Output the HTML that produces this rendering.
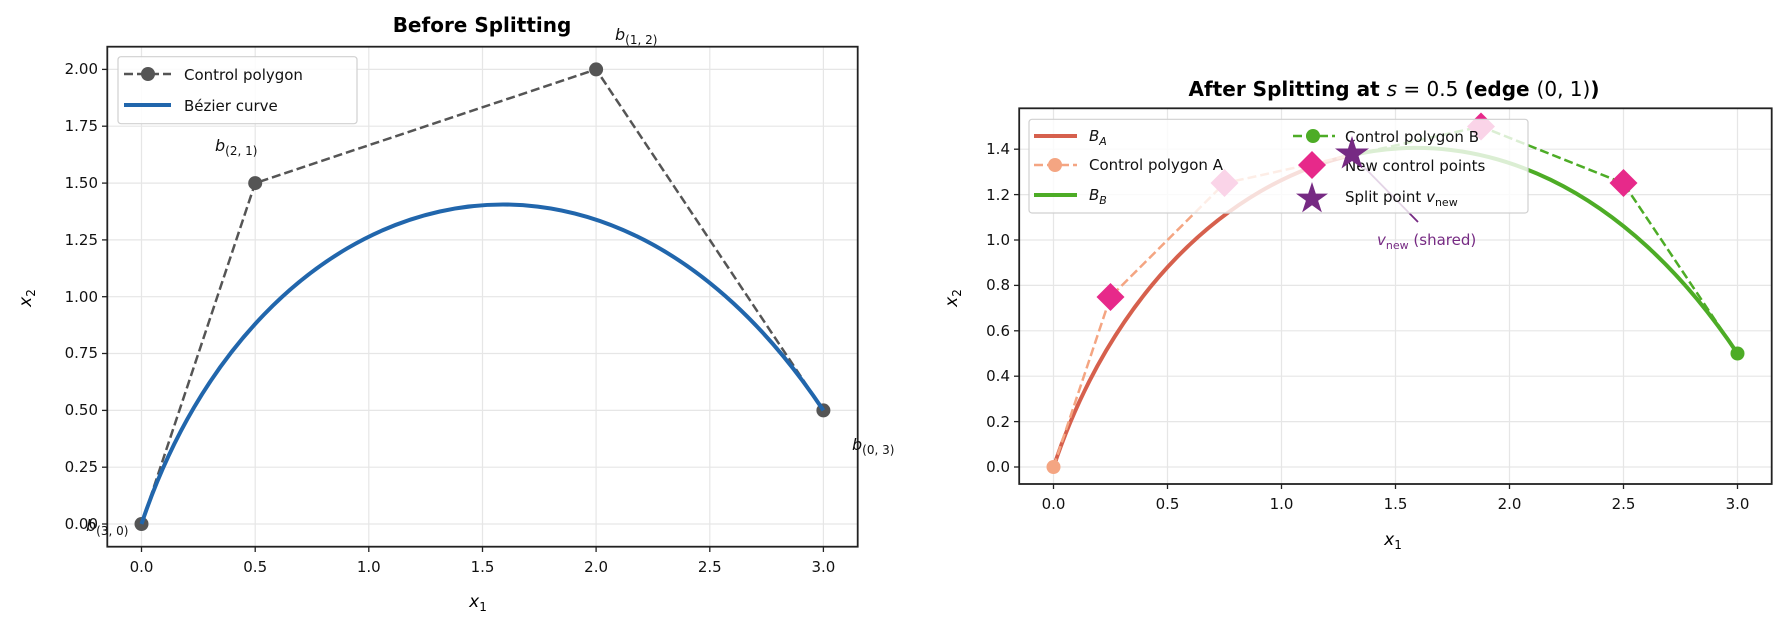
<!DOCTYPE html>
<html><head><meta charset="utf-8"><style>
html,body{margin:0;padding:0;background:#fff;}
svg{display:block;font-family:"DejaVu Sans","Liberation Sans",sans-serif;}
</style></head><body>
<svg width="1784" height="628" viewBox="0 0 1784 628" xmlns="http://www.w3.org/2000/svg">
<rect width="1784" height="628" fill="#fff"/>
<!-- ===== LEFT PLOT ===== -->
<g stroke="#e6e6e6" stroke-width="1.2">
<line x1="141.5" y1="46.7" x2="141.5" y2="546.7"/><line x1="255.2" y1="46.7" x2="255.2" y2="546.7"/>
<line x1="368.8" y1="46.7" x2="368.8" y2="546.7"/><line x1="482.5" y1="46.7" x2="482.5" y2="546.7"/>
<line x1="596.1" y1="46.7" x2="596.1" y2="546.7"/><line x1="709.8" y1="46.7" x2="709.8" y2="546.7"/>
<line x1="823.4" y1="46.7" x2="823.4" y2="546.7"/>
<line x1="107.3" y1="524" x2="857.7" y2="524"/><line x1="107.3" y1="467.2" x2="857.7" y2="467.2"/>
<line x1="107.3" y1="410.4" x2="857.7" y2="410.4"/><line x1="107.3" y1="353.5" x2="857.7" y2="353.5"/>
<line x1="107.3" y1="296.7" x2="857.7" y2="296.7"/><line x1="107.3" y1="239.9" x2="857.7" y2="239.9"/>
<line x1="107.3" y1="183.1" x2="857.7" y2="183.1"/><line x1="107.3" y1="126.2" x2="857.7" y2="126.2"/>
<line x1="107.3" y1="69.4" x2="857.7" y2="69.4"/>
</g>
<polyline points="141.5,524 255.2,183.1 596.1,69.4 823.4,410.4" fill="none" stroke="#555" stroke-width="2.5" stroke-dasharray="9,4"/>
<g fill="#555"><circle cx="141.5" cy="524" r="7"/><circle cx="255.2" cy="183.1" r="7"/><circle cx="596.1" cy="69.4" r="7"/><circle cx="823.4" cy="410.4" r="7"/></g>
<path d="M141.5,524 C255.2,183.1 596.1,69.4 823.4,410.4" fill="none" stroke="#2166ac" stroke-width="4"/>
<rect x="107.3" y="46.7" width="750.4" height="500" fill="none" stroke="#222" stroke-width="1.8"/>
<g stroke="#222" stroke-width="1.3">
<line x1="141.5" y1="546.7" x2="141.5" y2="552"/><line x1="255.2" y1="546.7" x2="255.2" y2="552"/><line x1="368.8" y1="546.7" x2="368.8" y2="552"/><line x1="482.5" y1="546.7" x2="482.5" y2="552"/><line x1="596.1" y1="546.7" x2="596.1" y2="552"/><line x1="709.8" y1="546.7" x2="709.8" y2="552"/><line x1="823.4" y1="546.7" x2="823.4" y2="552"/>
<line x1="102" y1="524" x2="107.3" y2="524"/><line x1="102" y1="467.2" x2="107.3" y2="467.2"/><line x1="102" y1="410.4" x2="107.3" y2="410.4"/><line x1="102" y1="353.5" x2="107.3" y2="353.5"/><line x1="102" y1="296.7" x2="107.3" y2="296.7"/><line x1="102" y1="239.9" x2="107.3" y2="239.9"/><line x1="102" y1="183.1" x2="107.3" y2="183.1"/><line x1="102" y1="126.2" x2="107.3" y2="126.2"/><line x1="102" y1="69.4" x2="107.3" y2="69.4"/>
</g>
<g font-size="15" fill="#111" text-anchor="middle">
<text x="141.5" y="572">0.0</text><text x="255.2" y="572">0.5</text><text x="368.8" y="572">1.0</text><text x="482.5" y="572">1.5</text><text x="596.1" y="572">2.0</text><text x="709.8" y="572">2.5</text><text x="823.4" y="572">3.0</text>
</g>
<g font-size="15" fill="#111" text-anchor="end">
<text x="98" y="529">0.00</text><text x="98" y="472">0.25</text><text x="98" y="415">0.50</text><text x="98" y="358">0.75</text><text x="98" y="302">1.00</text><text x="98" y="245">1.25</text><text x="98" y="188">1.50</text><text x="98" y="131">1.75</text><text x="98" y="74">2.00</text>
</g>
<text x="482" y="32" font-size="20" font-weight="bold" text-anchor="middle">Before Splitting</text>
<text x="478" y="607" font-size="17" font-style="italic" text-anchor="middle">x<tspan font-size="12" dy="4" font-style="normal">1</tspan></text>
<text transform="translate(31,298) rotate(-90)" font-size="17" font-style="italic" text-anchor="middle">x<tspan font-size="12" dy="4" font-style="normal">2</tspan></text>
<g font-size="16" font-style="italic" fill="#111">
<text x="615" y="40">b<tspan font-size="12" font-style="normal" dy="4">(1, 2)</tspan></text>
<text x="215" y="151">b<tspan font-size="12" font-style="normal" dy="4">(2, 1)</tspan></text>
<text x="852" y="450">b<tspan font-size="12" font-style="normal" dy="4">(0, 3)</tspan></text>
<text x="86" y="531">b<tspan font-size="12" font-style="normal" dy="4">(3, 0)</tspan></text>
</g>
<rect x="118" y="56.7" width="239" height="67" rx="3" fill="#fff" fill-opacity="0.85" stroke="#d0d0d0" stroke-width="1.2"/>
<line x1="124" y1="74" x2="171" y2="74" stroke="#555" stroke-width="2.5" stroke-dasharray="9,4"/>
<circle cx="148" cy="74" r="7" fill="#555"/>
<line x1="124" y1="105" x2="171" y2="105" stroke="#2166ac" stroke-width="4"/>
<g font-size="15" fill="#111"><text x="184" y="80">Control polygon</text><text x="184" y="111">Bézier curve</text></g>

<!-- ===== RIGHT PLOT ===== -->
<g stroke="#e6e6e6" stroke-width="1.2">
<line x1="1053.5" y1="108.3" x2="1053.5" y2="484"/><line x1="1167.5" y1="108.3" x2="1167.5" y2="484"/><line x1="1281.5" y1="108.3" x2="1281.5" y2="484"/><line x1="1395.5" y1="108.3" x2="1395.5" y2="484"/><line x1="1509.5" y1="108.3" x2="1509.5" y2="484"/><line x1="1623.5" y1="108.3" x2="1623.5" y2="484"/><line x1="1737.5" y1="108.3" x2="1737.5" y2="484"/>
<line x1="1019.2" y1="467" x2="1771.7" y2="467"/><line x1="1019.2" y1="421.6" x2="1771.7" y2="421.6"/><line x1="1019.2" y1="376.2" x2="1771.7" y2="376.2"/><line x1="1019.2" y1="330.8" x2="1771.7" y2="330.8"/><line x1="1019.2" y1="285.4" x2="1771.7" y2="285.4"/><line x1="1019.2" y1="240" x2="1771.7" y2="240"/><line x1="1019.2" y1="194.6" x2="1771.7" y2="194.6"/><line x1="1019.2" y1="149.2" x2="1771.7" y2="149.2"/>
</g>
<path d="M1053.5,467 C1110.5,296.75 1224.5,183.25 1352.8,154.9" fill="none" stroke="#d6604d" stroke-width="4"/>
<path d="M1352.8,154.9 C1481,126.5 1623.5,183.25 1737.5,353.5" fill="none" stroke="#4dac26" stroke-width="4"/>
<polyline points="1053.5,467 1110.5,296.75 1224.5,183.25 1352.8,154.9" fill="none" stroke="#f4a582" stroke-width="2.5" stroke-dasharray="9,4"/>
<polyline points="1352.8,154.9 1481,126.5 1623.5,183.25 1737.5,353.5" fill="none" stroke="#4dac26" stroke-width="2.5" stroke-dasharray="9,4"/>
<circle cx="1053.5" cy="467" r="7" fill="#f4a582"/>
<circle cx="1737.5" cy="353.5" r="7" fill="#4dac26"/>
<g fill="#e7298a">
<polygon points="1110.5,283 1124.5,297 1110.5,311 1096.5,297"/>
<polygon points="1224.5,169 1238.5,183 1224.5,197 1210.5,183"/>
<polygon points="1481,112.5 1495,126.5 1481,140.5 1467,126.5"/>
<polygon points="1623.5,169 1637.5,183 1623.5,197 1609.5,183"/>
</g>
<line x1="1418" y1="222" x2="1360" y2="163" stroke="#762a83" stroke-width="1.8"/>
<!-- legend -->
<rect x="1029" y="119.3" width="499" height="93.7" rx="3" fill="#fff" fill-opacity="0.8" stroke="#d0d0d0" stroke-width="1.2"/>
<line x1="1034" y1="136" x2="1077" y2="136" stroke="#d6604d" stroke-width="4"/>
<line x1="1034" y1="165" x2="1077" y2="165" stroke="#f4a582" stroke-width="2.5" stroke-dasharray="9,4"/>
<circle cx="1055" cy="165" r="7" fill="#f4a582"/>
<line x1="1034" y1="195" x2="1077" y2="195" stroke="#4dac26" stroke-width="4"/>
<line x1="1293" y1="136" x2="1335" y2="136" stroke="#4dac26" stroke-width="2.5" stroke-dasharray="9,4"/>
<circle cx="1313" cy="136" r="7" fill="#4dac26"/>
<polygon points="1312,151 1326,165 1312,179 1298,165" fill="#e7298a"/>
<polygon points="1312,182 1315.8,193.6 1328,193.6 1318.1,200.8 1321.9,212.4 1312,205.2 1302.1,212.4 1305.9,200.8 1296,193.6 1308.2,193.6" fill="#762a83"/>
<g font-size="15" fill="#111">
<text x="1089" y="141" font-style="italic">B<tspan font-size="11" dy="4">A</tspan></text>
<text x="1089" y="170">Control polygon A</text>
<text x="1089" y="200" font-style="italic">B<tspan font-size="11" dy="4">B</tspan></text>
<text x="1345" y="142">Control polygon B</text>
<text x="1345" y="171">New control points</text>
<text x="1345" y="202">Split point <tspan font-style="italic">v</tspan><tspan font-size="11" dy="4">new</tspan></text>
</g>
<polygon points="1352,136 1356,148.5 1369,148.5 1358.5,156 1362.5,168.5 1352,161 1341.5,168.5 1345.5,156 1335,148.5 1348,148.5" fill="#762a83"/>
<text x="1377" y="245" font-size="15" fill="#762a83"><tspan font-style="italic">v</tspan><tspan font-size="11" dy="4">new</tspan><tspan dy="-4"> (shared)</tspan></text>
<rect x="1019.2" y="108.3" width="752.5" height="375.7" fill="none" stroke="#222" stroke-width="1.8"/>
<g stroke="#222" stroke-width="1.3">
<line x1="1053.5" y1="484" x2="1053.5" y2="489"/><line x1="1167.5" y1="484" x2="1167.5" y2="489"/><line x1="1281.5" y1="484" x2="1281.5" y2="489"/><line x1="1395.5" y1="484" x2="1395.5" y2="489"/><line x1="1509.5" y1="484" x2="1509.5" y2="489"/><line x1="1623.5" y1="484" x2="1623.5" y2="489"/><line x1="1737.5" y1="484" x2="1737.5" y2="489"/>
<line x1="1014" y1="467" x2="1019.2" y2="467"/><line x1="1014" y1="421.6" x2="1019.2" y2="421.6"/><line x1="1014" y1="376.2" x2="1019.2" y2="376.2"/><line x1="1014" y1="330.8" x2="1019.2" y2="330.8"/><line x1="1014" y1="285.4" x2="1019.2" y2="285.4"/><line x1="1014" y1="240" x2="1019.2" y2="240"/><line x1="1014" y1="194.6" x2="1019.2" y2="194.6"/><line x1="1014" y1="149.2" x2="1019.2" y2="149.2"/>
</g>
<g font-size="15" fill="#111" text-anchor="middle">
<text x="1053.5" y="509">0.0</text><text x="1167.5" y="509">0.5</text><text x="1281.5" y="509">1.0</text><text x="1395.5" y="509">1.5</text><text x="1509.5" y="509">2.0</text><text x="1623.5" y="509">2.5</text><text x="1737.5" y="509">3.0</text>
</g>
<g font-size="15" fill="#111" text-anchor="end">
<text x="1010" y="472">0.0</text><text x="1010" y="427">0.2</text><text x="1010" y="381">0.4</text><text x="1010" y="336">0.6</text><text x="1010" y="290">0.8</text><text x="1010" y="245">1.0</text><text x="1010" y="200">1.2</text><text x="1010" y="154">1.4</text>
</g>
<text x="1394" y="96" font-size="20" font-weight="bold" text-anchor="middle">After Splitting at <tspan font-style="italic" font-weight="normal">s</tspan><tspan font-weight="normal"> = 0.5 </tspan>(edge <tspan font-weight="normal">(0, 1)</tspan>)</text>
<text x="1393" y="545" font-size="17" font-style="italic" text-anchor="middle">x<tspan font-size="12" dy="4" font-style="normal">1</tspan></text>
<text transform="translate(957,298) rotate(-90)" font-size="17" font-style="italic" text-anchor="middle">x<tspan font-size="12" dy="4" font-style="normal">2</tspan></text>
</svg>
</body></html>
